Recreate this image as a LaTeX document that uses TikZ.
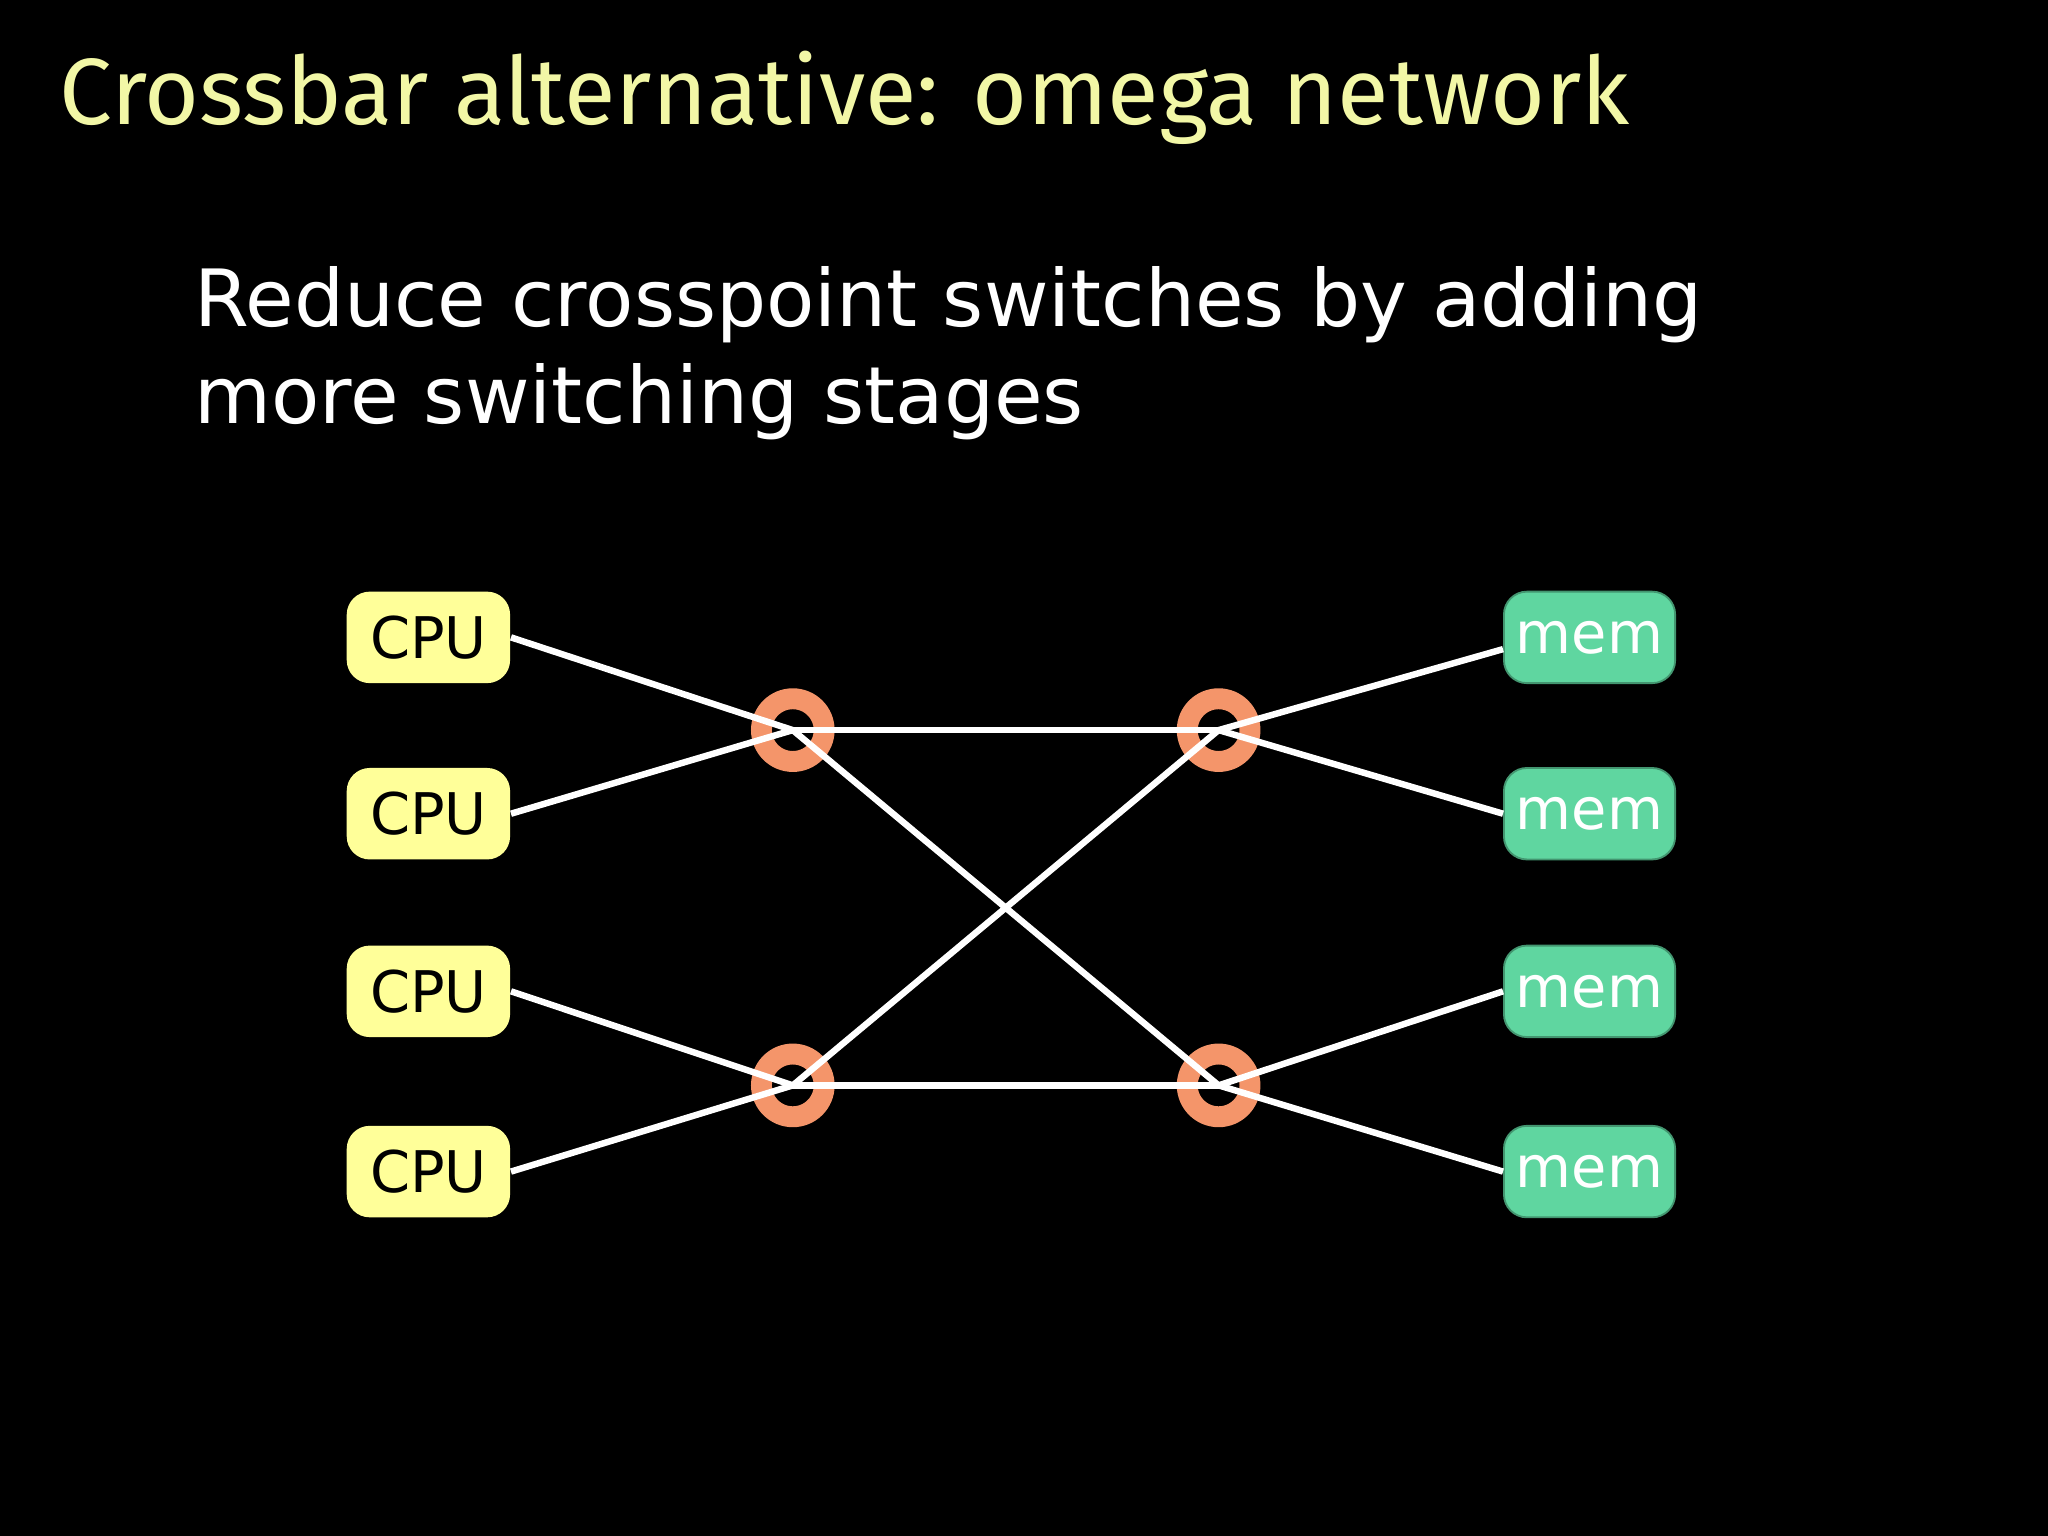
\documentclass[tikz,border=0pt]{standalone}
\usepackage{fontspec}
\setmainfont{DejaVu Sans}
\newfontfamily\titlefont{Fira Sans}
\definecolor{ttl}{HTML}{F2F7A6}
\definecolor{cpuc}{HTML}{FFFF99}
\definecolor{memc}{HTML}{5FD6A0}
\definecolor{ring}{HTML}{F4956A}
\begin{document}
\begin{tikzpicture}[x=0.01cm,y=-0.01cm,
  cpu/.style={fill=cpuc,rounded corners=5pt,minimum width=1.25cm,minimum height=0.7cm,inner sep=0pt,font=\fontsize{12.5}{15}\selectfont,text=black},
  mem/.style={fill=memc,draw=memc!70!black,rounded corners=5pt,minimum width=1.31cm,minimum height=0.7cm,inner sep=0pt,font=\fontsize{12.5}{15}\selectfont,text=white},
  sw/.style={circle,draw=ring,line width=0.16cm,minimum size=0.48cm,inner sep=0pt},
  wire/.style={white,line width=1.4pt}]
\fill[black] (0,0) rectangle (1568,1176);
\node[anchor=base west,inner sep=0pt,text=ttl,font=\titlefont\fontsize{20.5}{24}\selectfont] (t) at (45,95) {Crossbar alternative: omega network};
\node[anchor=base west,inner sep=0pt,text=white,font=\fontsize{17.2}{21}\selectfont] (s) at (148,250) {Reduce crosspoint switches by adding};
\node[anchor=base west,inner sep=0pt,text=white,font=\fontsize{17.2}{21}\selectfont] (s2) at (148,324) {more switching stages};
\foreach \i/\y in {1/488,2/623,3/759,4/897}{
  \node[cpu] (c\i) at (328,\y) {CPU};
  \node[mem] (m\i) at (1217,\y) {mem};
}
\node[sw] (s1) at (607,559) {};
\node[sw] (s2) at (933,559) {};
\node[sw] (s3) at (607,831) {};
\node[sw] (s4) at (933,831) {};
\draw[wire] (c1.east) -- (s1.center);
\draw[wire] (c2.east) -- (s1.center);
\draw[wire] (c3.east) -- (s3.center);
\draw[wire] (c4.east) -- (s3.center);
\draw[wire] (s1.center) -- (s2.center);
\draw[wire] (s3.center) -- (s4.center);
\draw[wire] (s1.center) -- (s4.center);
\draw[wire] (s3.center) -- (s2.center);
\draw[wire] (s2.center) -- ([yshift=-0.09cm]m1.west);
\draw[wire] (s2.center) -- (m2.west);
\draw[wire] (s4.center) -- (m3.west);
\draw[wire] (s4.center) -- (m4.west);
\end{tikzpicture}
\end{document}
